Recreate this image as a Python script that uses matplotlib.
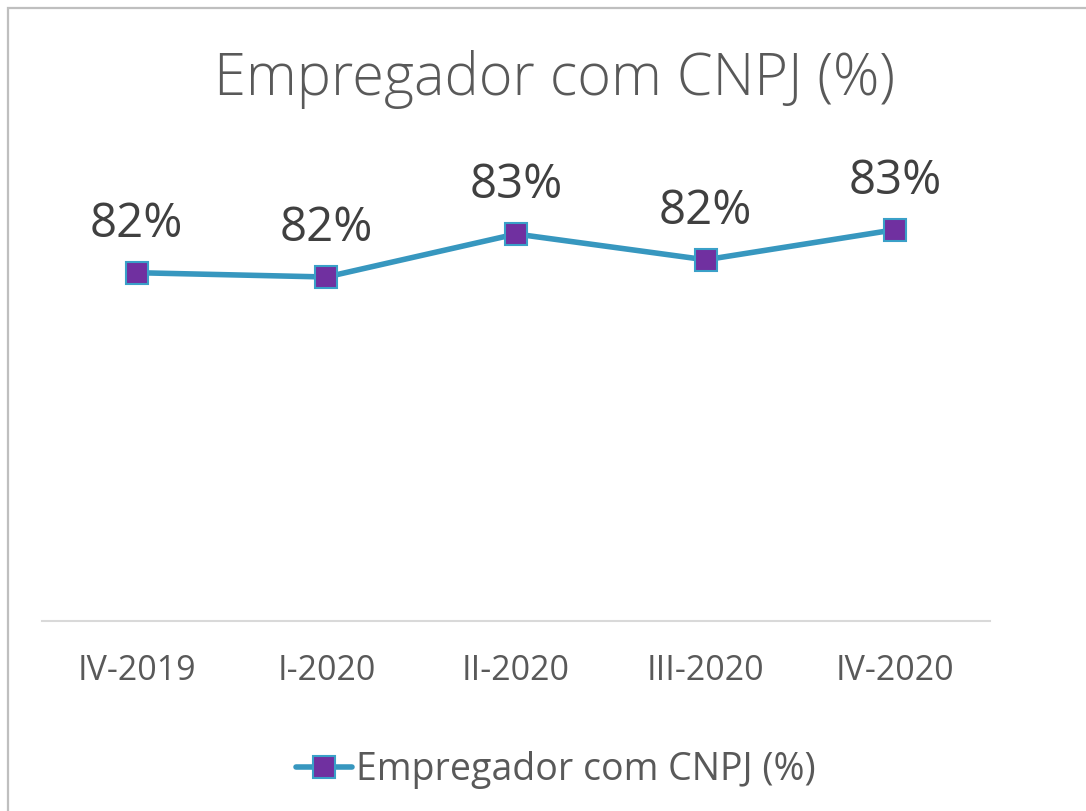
import matplotlib.pyplot as plt
from matplotlib.patches import Rectangle

categorias = ["IV-2019", "I-2020", "II-2020", "III-2020", "IV-2020"]
valores = [82.1, 82.0, 83.0, 82.4, 83.1]
rotulos = ["82%", "82%", "83%", "82%", "83%"]
serie = "Empregador com CNPJ (%)"

plt.rcParams['font.family'] = ['Open Sans', 'DejaVu Sans']

W, H = 1086, 811
fig = plt.figure(figsize=(W / 100, H / 100), dpi=100)

# moldura cinza do gráfico (sai pela direita e por baixo)
fig.patches.append(Rectangle((8 / W, -0.1), 1.2, (H - 8) / H + 0.1,
                             transform=fig.transFigure, fill=False,
                             edgecolor='#BFBFBF', lw=1.6))

ax = fig.add_axes([42 / W, (H - 621) / H, 948 / W, 430 / H])
x = range(len(categorias))
ax.plot(x, valores, color='#3797BF', lw=4, marker='s', markersize=16,
        markerfacecolor='#7030A0', markeredgecolor='#3AA0C8',
        markeredgewidth=1.5, label=serie, solid_capstyle='round')

for xi, v, r in zip(x, valores, rotulos):
    ax.annotate(r, (xi, v), xytext=(0, 26), textcoords='offset points',
                ha='center', va='baseline', fontsize=34, color='#404040')

ax.set_xlim(-0.5, len(categorias) - 0.5)
ax.set_ylim(74, 84)
ax.set_xticks(list(x))
ax.set_xticklabels(categorias, fontsize=24.5, color='#595959')
ax.tick_params(axis='x', length=0, pad=24)
ax.set_yticks([])
for s in ['top', 'left', 'right']:
    ax.spines[s].set_visible(False)
ax.spines['bottom'].set_color('#D9D9D9')
ax.spines['bottom'].set_linewidth(1.5)

fig.text(554 / W, (H - 95) / H, serie, ha='center', va='baseline',
         fontsize=41.5, color='#595959', fontweight='light')

fig.legend(loc='center', bbox_to_anchor=(556 / W, (H - 770) / H),
           frameon=False, fontsize=27, handlelength=1.5, handletextpad=0.1,
           labelcolor='#595959')

fig.savefig('out.png', dpi=100)
